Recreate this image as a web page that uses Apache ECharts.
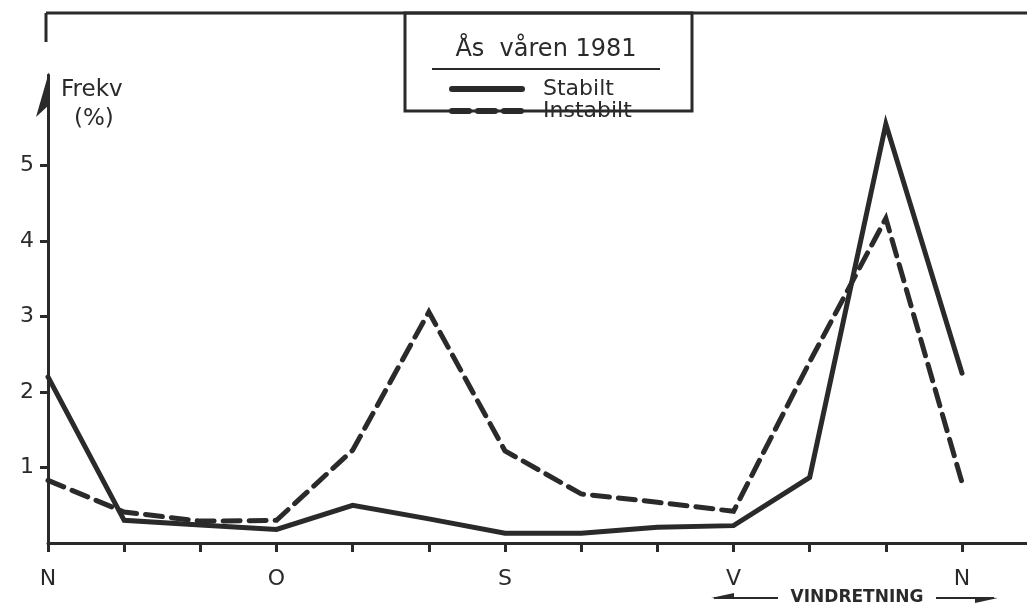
<!DOCTYPE html>
<html>
<head>
<meta charset="utf-8">
<script src="https://cdn.jsdelivr.net/npm/echarts@6/dist/echarts.min.js"></script>
<style>
  html, body { margin: 0; padding: 0; background: #ffffff; }
  #chart { width: 1027px; height: 605px; }
</style>
</head>
<body>
<div id="chart"></div>
<script>
// Wind direction sectors (13 points, N round to N)
const directionLabels = ['N', '', '', 'O', '', '', 'S', '', '', 'V', '', '', 'N'];
// Frequency (%) per sector
const stabilt   = [2.2, 0.3, 0.24, 0.18, 0.5, 0.32, 0.13, 0.13, 0.21, 0.23, 0.87, 5.55, 2.25];
const instabilt = [0.83, 0.41, 0.29, 0.3, 1.23, 3.06, 1.22, 0.65, 0.54, 0.42, 2.4, 4.3, 0.8];
const yTicks = [1, 2, 3, 4, 5];

const FONT = 'DejaVu Sans';
const INK = '#2a2a2a';

const xTickValues = directionLabels.map((_, i) => i);
const xLabelValues = directionLabels.map((l, i) => (l ? i : null)).filter(v => v !== null);

const chart = echarts.init(document.getElementById('chart'), null, { renderer: 'canvas' });

const option = {
  backgroundColor: '#ffffff',
  animation: false,
  grid: { left: 48, right: 0, top: 75, bottom: 62 },
  xAxis: {
    type: 'value',
    min: 0,
    max: 12.853,
    splitLine: { show: false },
    axisLine: { lineStyle: { color: INK, width: 3 } },
    axisTick: { show: true, length: 9, lineStyle: { color: INK, width: 3 }, customValues: xTickValues },
    axisLabel: {
      customValues: xLabelValues,
      formatter: v => directionLabels[Math.round(v)] || '',
      color: INK, fontFamily: FONT, fontSize: 22, margin: 25
    }
  },
  yAxis: {
    type: 'value',
    min: 0,
    max: 6.2,
    splitLine: { show: false },
    axisLine: { show: true, lineStyle: { color: INK, width: 3 } },
    axisTick: { show: true, length: 8, lineStyle: { color: INK, width: 3 }, customValues: yTicks },
    axisLabel: {
      customValues: yTicks,
      color: INK, fontFamily: FONT, fontSize: 22, margin: 14
    }
  },
  legend: {
    orient: 'vertical',
    left: 444,
    top: 73,
    itemWidth: 70,
    itemHeight: 21,
    itemGap: 0,
    itemStyle: { opacity: 0 },
    lineStyle: { width: 6, cap: 'round' },
    textStyle: { color: INK, fontFamily: FONT, fontSize: 22, lineHeight: 21, padding: [0, 0, 0, 16] },
    data: ['Stabilt', 'Instabilt']
  },
  series: [
    {
      name: 'Stabilt',
      type: 'line',
      data: stabilt.map((v, i) => [i, v]),
      symbol: 'none',
      lineStyle: { color: INK, width: 5, join: 'miter', cap: 'round' },
      itemStyle: { color: INK }
    },
    {
      name: 'Instabilt',
      type: 'line',
      data: instabilt.map((v, i) => [i, v]),
      symbol: 'none',
      lineStyle: { color: INK, width: 5, type: [17, 9], join: 'miter', cap: 'round' },
      itemStyle: { color: INK }
    }
  ],
  graphic: [
    // top frame with short left drop
    { type: 'line', shape: { x1: 46, y1: 13, x2: 1027, y2: 13 }, style: { stroke: INK, lineWidth: 3 } },
    { type: 'line', shape: { x1: 46, y1: 13, x2: 46, y2: 42 }, style: { stroke: INK, lineWidth: 3 } },
    // legend box
    { type: 'rect', shape: { x: 405, y: 13, width: 287, height: 98 }, style: { fill: null, stroke: INK, lineWidth: 3 } },
    { type: 'text', x: 546, y: 50, style: { text: 'Ås  våren 1981', font: '24px "DejaVu Sans"', fill: INK, textAlign: 'center', textVerticalAlign: 'middle' } },
    { type: 'line', shape: { x1: 432, y1: 69, x2: 660, y2: 69 }, style: { stroke: INK, lineWidth: 2 } },
    // y axis name
    { type: 'text', x: 61, y: 90, style: { text: 'Frekv', font: '23px "DejaVu Sans"', fill: INK, textVerticalAlign: 'middle' } },
    { type: 'text', x: 74, y: 119, style: { text: '(%)', font: '23px "DejaVu Sans"', fill: INK, textVerticalAlign: 'middle' } },
    // wind direction caption with arrows
    { type: 'text', x: 857, y: 598, style: { text: 'VINDRETNING', font: 'bold 17px "DejaVu Sans"', fill: INK, textAlign: 'center', textVerticalAlign: 'middle' } },
    { type: 'line', shape: { x1: 714, y1: 598, x2: 778, y2: 598 }, style: { stroke: INK, lineWidth: 2 } },
    { type: 'polygon', shape: { points: [[711, 598], [734, 593], [734, 599]] }, style: { fill: INK } },
    { type: 'line', shape: { x1: 936, y1: 598, x2: 994, y2: 598 }, style: { stroke: INK, lineWidth: 2 } },
    { type: 'polygon', shape: { points: [[998, 598], [975, 597], [975, 603]] }, style: { fill: INK } }
  ]
};

chart.setOption(option);

// half arrowhead on top of the y axis
const axisTop = chart.convertToPixel({ gridIndex: 0 }, [0, 6.2]);
chart.setOption({
  graphic: option.graphic.concat([
    { type: 'polygon', shape: { points: [[axisTop[0] + 1, axisTop[1] - 3], [axisTop[0] - 12, axisTop[1] + 42], [axisTop[0] + 1, axisTop[1] + 30]] }, style: { fill: INK } }
  ])
});
</script>
</body>
</html>
